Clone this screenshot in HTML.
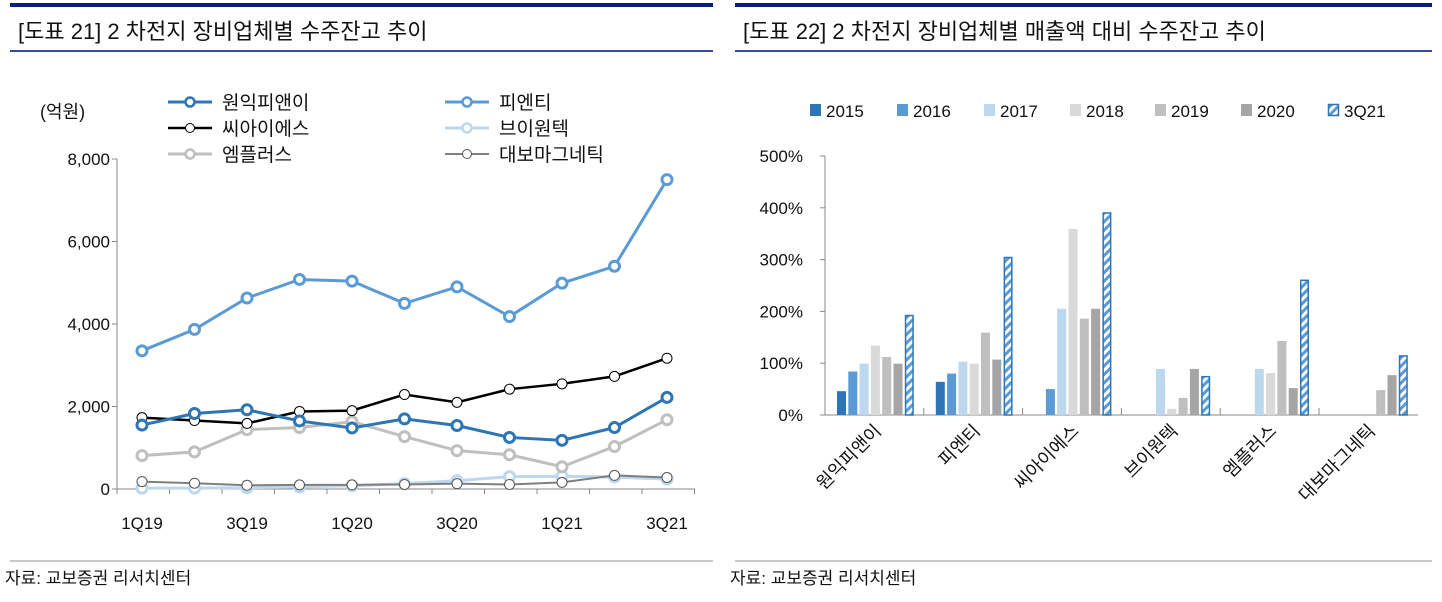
<!DOCTYPE html>
<html><head><meta charset="utf-8"><style>
html,body{margin:0;padding:0;background:#fff;}
svg{display:block;font-family:"Liberation Sans","Noto Sans CJK KR",sans-serif;}
</style></head><body>
<svg id="s" width="1442" height="602" viewBox="0 0 1442 602" xmlns="http://www.w3.org/2000/svg">
<rect x="10" y="3" width="703" height="4" fill="#0b1f7a"/>
<rect x="735" y="3" width="697" height="4" fill="#0b1f7a"/>
<rect x="10" y="50" width="703" height="2" fill="#3a4a9a"/>
<rect x="735" y="50" width="697" height="2" fill="#3a4a9a"/>
<text x="18" y="39" font-size="22" fill="#111">[도표 21] 2 차전지 장비업체별 수주잔고 추이</text>
<text x="743" y="39" font-size="22" fill="#111">[도표 22] 2 차전지 장비업체별 매출액 대비 수주잔고 추이</text>
<rect x="10" y="560" width="703" height="2" fill="#c8c8c8"/>
<rect x="735" y="560" width="697" height="2" fill="#c8c8c8"/>
<text x="5" y="584" font-size="17" fill="#111">자료: 교보증권 리서치센터</text>
<text x="730" y="584" font-size="17" fill="#111">자료: 교보증권 리서치센터</text>
<text x="40" y="118" font-size="18" fill="#111">(억원)</text>
<g id="L"></g><g id="R"></g>
</svg>
<script>
const lineCats=['1Q19','2Q19','3Q19','4Q19','1Q20','2Q20','3Q20','4Q20','1Q21','2Q21','3Q21'];
const lineTicks=[0,2000,4000,6000,8000];
const wonik=[1550,1830,1920,1650,1480,1700,1540,1250,1180,1490,2220];
const pnt=[3350,3870,4630,5080,5040,4500,4900,4180,4990,5400,7500];
const cis=[1730,1660,1590,1880,1900,2290,2100,2420,2550,2730,3170];
const mplus=[810,900,1440,1490,1630,1270,930,830,540,1030,1680];
const vone=[20,20,30,50,80,130,200,300,310,290,240];
const daebo=[180,140,90,100,100,110,130,110,160,330,280];

const barCats=['원익피앤이','피엔티','씨아이에스','브이원텍','엠플러스','대보마그네틱'];
const barYears=['2015','2016','2017','2018','2019','2020','3Q21'];
const barTicks=[0,100,200,300,400,500];
const v2015=[46,64,null,null,null,null];
const v2016=[84,80,50,null,null,null];
const v2017=[99,103,205,89,89,null];
const v2018=[134,99,359,12,81,null];
const v2019=[112,159,186,33,143,48];
const v2020=[99,107,205,89,52,77];
const v3Q21=[192,304,390,74,260,114];

const NS='http://www.w3.org/2000/svg';
function mk(p,t,a,txt){const e=document.createElementNS(NS,t);for(const k in a)e.setAttribute(k,a[k]);if(txt!=null)e.textContent=txt;p.appendChild(e);return e;}
const L=document.getElementById('L'),R=document.getElementById('R');

// left chart
const ly=v=>489-v/8000*330, lx=i=>142+i*52.5;
mk(L,'line',{x1:117,y1:159,x2:117,y2:489,stroke:'#888','stroke-width':1});
mk(L,'line',{x1:117,y1:489,x2:695,y2:489,stroke:'#888','stroke-width':1});
lineTicks.forEach(t=>{
 const g=mk(L,'g',{});
 
 
 mk(g,'line',{x1:112,y1:ly(t),x2:117,y2:ly(t),stroke:'#888'});
 mk(g,'text',{x:110,y:ly(t)+6,'text-anchor':'end','font-size':17,fill:'#111'},t.toLocaleString('en-US'));
});
for(let i=0;i<=11;i++){const x=117+i*52.5;mk(L,'line',{x1:x,y1:489,x2:x,y2:494,stroke:'#888'});}
lineCats.forEach((c,i)=>{if(i%2==0){const t=mk(L,'text',{x:lx(i),y:529,'text-anchor':'middle','font-size':17,fill:'#111'},c);
 
 }});
const series=[
 {n:'원익피앤이',d:wonik,c:'#2e75b6',w:3,r:5,sw:3,lx:168,ly:102},
 {n:'피엔티',d:pnt,c:'#5b9bd5',w:3,r:5,sw:3,lx:445,ly:102},
 {n:'씨아이에스',d:cis,c:'#000',w:2.5,r:5,sw:1,lx:168,ly:128},
 {n:'브이원텍',d:vone,c:'#bdd7ee',w:3,r:5,sw:3,lx:445,ly:128},
 {n:'엠플러스',d:mplus,c:'#bfbfbf',w:3,r:5,sw:3,lx:168,ly:154},
 {n:'대보마그네틱',d:daebo,c:'#7f7f7f',w:2,r:5,sw:1,lx:445,ly:154}];
[3,5,4,2,0,1].forEach(k=>{const s=series[k];
 const g=mk(L,'g',{});
 
 
 mk(g,'polyline',{points:s.d.map((v,i)=>lx(i)+','+ly(v)).join(' '),fill:'none',stroke:s.c,'stroke-width':s.w});
 s.d.forEach((v,i)=>mk(g,'circle',{cx:lx(i),cy:ly(v),r:s.r,fill:'#fff',stroke:s.sw==1?(k==2?'#000':'#555'):s.c,'stroke-width':s.sw}));
});
series.forEach((s,k)=>{
 const g=mk(L,'g',{});
 
 
 mk(g,'line',{x1:s.lx,y1:s.ly,x2:s.lx+44,y2:s.ly,stroke:s.c,'stroke-width':s.w});
 mk(g,'circle',{cx:s.lx+22,cy:s.ly,r:4.5,fill:'#fff',stroke:s.sw==1?(k==2?'#000':'#555'):s.c,'stroke-width':s.sw==1?1:2.5});
 mk(g,'text',{x:s.lx+54,y:s.ly+7,'font-size':19,fill:'#111'},s.n);
});

// right chart
const defs=mk(R,'defs',{});
const pat=mk(defs,'pattern',{id:'hatch',width:6,height:6,patternUnits:'userSpaceOnUse',patternTransform:'rotate(-45)'});
mk(pat,'rect',{width:6,height:6,fill:'#fff'});
mk(pat,'rect',{width:6,height:3,fill:'#5b9bd5'});
const y0=415, ry=v=>y0-v/100*51.8, cw=98.8, rx0=825, bstep=11.3, bw=9, boff=12;
mk(R,'line',{x1:825,y1:156,x2:825,y2:y0,stroke:'#888'});
mk(R,'line',{x1:825,y1:y0,x2:1418,y2:y0,stroke:'#888'});
barTicks.forEach(t=>{
 const g=mk(R,'g',{});
 
 
 mk(g,'line',{x1:820,y1:ry(t),x2:825,y2:ry(t),stroke:'#888'});
 mk(g,'text',{x:803,y:ry(t)+6,'text-anchor':'end','font-size':17,fill:'#111'},t+'%');
});
for(let i=1;i<6;i++){const x=rx0+i*cw;mk(R,'line',{x1:x,y1:y0-7,x2:x,y2:y0,stroke:'#888'});}
const cols=['#2e75b6','#5b9bd5','#bdd7ee','#d9d9d9','#bfbfbf','#a5a5a5','hatch'];
const vals=[v2015,v2016,v2017,v2018,v2019,v2020,v3Q21];
vals.forEach((arr,j)=>{arr.forEach((v,i)=>{if(v==null)return;
 const x=rx0+i*cw+boff+j*bstep;
 let r;
 if(cols[j]=='hatch') r=mk(R,'rect',{x:x+0.75,y:ry(v),width:bw-1.5,height:y0-ry(v),fill:'url(#hatch)',stroke:'#2e75b6','stroke-width':1.5});
 else r=mk(R,'rect',{x:x,y:ry(v),width:bw,height:y0-ry(v),fill:cols[j]});
 
 
});});
barCats.forEach((c,i)=>{const cx=rx0+i*cw+cw/2+8;
 const t=mk(R,'text',{x:cx,y:432,'text-anchor':'end','font-size':18,fill:'#111',transform:`rotate(-45 ${cx} 432)`},c);
 
 
});
const legX=[810,897,984,1070,1155,1241,1328];
barYears.forEach((y,j)=>{
 const g=mk(R,'g',{});
 
 
 if(cols[j]=='hatch') mk(g,'rect',{x:legX[j]+0.5,y:104.5,width:10,height:11,fill:'url(#hatch)',stroke:'#2e75b6','stroke-width':1.5});
 else mk(g,'rect',{x:legX[j],y:104,width:11,height:12,fill:cols[j]});
 mk(g,'text',{x:legX[j]+16,y:117,'font-size':17,fill:'#111'},y);
});
</script>
</body></html>
